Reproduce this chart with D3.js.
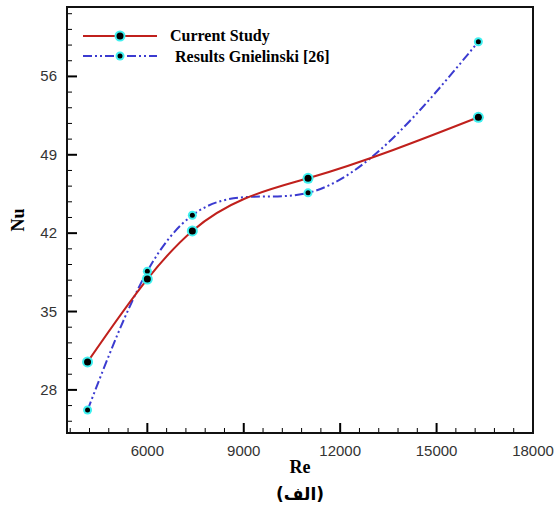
<!DOCTYPE html>
<html>
<head>
<meta charset="utf-8">
<script src="https://cdn.jsdelivr.net/npm/d3@7"></script>
<style>
  body { margin: 0; background: #fff; }
  svg { display: block; }
</style>
</head>
<body>
<svg id="chart" width="559" height="506"></svg>
<script>
let re = [4140, 6000, 7400, 11000, 16300];
let nuCurrent = [30.5, 37.9, 42.2, 46.9, 52.35];
let nuGnielinski = [26.2, 38.6, 43.6, 45.6, 59.1];
let xTicks = [6000, 9000, 12000, 15000, 18000];
let yTicks = [28, 35, 42, 49, 56];

let svg = d3.select('#chart');
let plotL = 67, plotR = 533, plotT = 7, plotB = 433;

let x = d3.scaleLinear().domain([3500, 18000]).range([plotL, plotR]);
let y = d3.scaleLinear().domain([24.15, 62.2]).range([plotB, plotT]);

// natural cubic spline with y as a function of x (like the plotting package does)
function curveSplineX(context) {
  let pts = [];
  return {
    areaStart() {}, areaEnd() {},
    lineStart() { pts = []; },
    point(px, py) { pts.push([px, py]); },
    lineEnd() {
      let n = pts.length;
      if (n < 2) return;
      let h = [], s = [];
      for (let i = 0; i < n - 1; i++) {
        h[i] = pts[i + 1][0] - pts[i][0];
        s[i] = (pts[i + 1][1] - pts[i][1]) / h[i];
      }
      // tridiagonal solve for second derivatives, M0 = Mn-1 = 0
      let M = new Array(n).fill(0);
      let a = [], b = [], c = [], r = [];
      for (let i = 1; i < n - 1; i++) {
        a.push(h[i - 1]); b.push(2 * (h[i - 1] + h[i])); c.push(h[i]);
        r.push(6 * (s[i] - s[i - 1]));
      }
      let m = b.length;
      for (let i = 1; i < m; i++) {
        let w = a[i] / b[i - 1];
        b[i] -= w * c[i - 1];
        r[i] -= w * r[i - 1];
      }
      for (let i = m - 1; i >= 0; i--) {
        M[i + 1] = (r[i] - (i < m - 1 ? c[i] * M[i + 2] : 0)) / b[i];
      }
      context.moveTo(pts[0][0], pts[0][1]);
      for (let i = 0; i < n - 1; i++) {
        let d0 = s[i] - h[i] * (2 * M[i] + M[i + 1]) / 6;
        let d1 = s[i] + h[i] * (M[i] + 2 * M[i + 1]) / 6;
        let k = h[i] / 3;
        context.bezierCurveTo(
          pts[i][0] + k, pts[i][1] + d0 * k,
          pts[i + 1][0] - k, pts[i + 1][1] - d1 * k,
          pts[i + 1][0], pts[i + 1][1]);
      }
    }
  };
}

// minor ticks
let xMinor = d3.range(3600, 18000, 600).filter(v => xTicks.indexOf(v) < 0);
let yMinor = d3.range(25.2, 62.2, 1.4).filter(v => !yTicks.some(t => Math.abs(t - v) < 0.01));

let g = svg.append("g");

g.selectAll(".xminor").data(xMinor).enter().append("line")
  .attr("x1", d => x(d)).attr("x2", d => x(d))
  .attr("y1", plotB).attr("y2", plotB - 5)
  .attr("stroke", "#000").attr("stroke-width", 1);
g.selectAll(".xmajor").data(xTicks).enter().append("line")
  .attr("x1", d => x(d)).attr("x2", d => x(d))
  .attr("y1", plotB).attr("y2", plotB - 10)
  .attr("stroke", "#000").attr("stroke-width", 2);
g.selectAll(".yminor").data(yMinor).enter().append("line")
  .attr("x1", plotL).attr("x2", plotL + 5)
  .attr("y1", d => y(d)).attr("y2", d => y(d))
  .attr("stroke", "#000").attr("stroke-width", 1);
g.selectAll(".ymajor").data(yTicks).enter().append("line")
  .attr("x1", plotL).attr("x2", plotL + 10)
  .attr("y1", d => y(d)).attr("y2", d => y(d))
  .attr("stroke", "#000").attr("stroke-width", 2);

g.selectAll(".xlab").data(xTicks).enter().append("text")
  .attr("x", d => x(d)).attr("y", plotB + 23)
  .attr("text-anchor", "middle")
  .attr("font-family", "Liberation Sans, Arial, sans-serif")
  .attr("font-size", 15).attr("fill", "#333")
  .text(d => d);
g.selectAll(".ylab").data(yTicks).enter().append("text")
  .attr("x", plotL - 10).attr("y", d => y(d) + 5)
  .attr("text-anchor", "end")
  .attr("font-family", "Liberation Sans, Arial, sans-serif")
  .attr("font-size", 15).attr("fill", "#333")
  .text(d => d);

g.append("rect")
  .attr("x", plotL).attr("y", plotT)
  .attr("width", plotR - plotL).attr("height", plotB - plotT)
  .attr("fill", "none").attr("stroke", "#111").attr("stroke-width", 2);

// axis titles
svg.append("text")
  .attr("x", 300).attr("y", 473)
  .attr("text-anchor", "middle")
  .attr("font-family", "Liberation Serif, Times New Roman, serif")
  .attr("font-weight", "bold").attr("font-size", 18)
  .text("Re");
svg.append("text")
  .attr("transform", "translate(24,220) rotate(-90)")
  .attr("text-anchor", "middle")
  .attr("font-family", "Liberation Serif, Times New Roman, serif")
  .attr("font-weight", "bold").attr("font-size", 18)
  .text("Nu");
svg.append("text")
  .attr("x", 300).attr("y", 500)
  .attr("text-anchor", "middle")
  .attr("font-family", "DejaVu Sans, sans-serif")
  .attr("font-weight", "bold").attr("font-size", 17)
  .text("(الف)");

let line = d3.line().curve(curveSplineX)
  .x(d => x(d[0])).y(d => y(d[1]));

let current = re.map((r, i) => [r, nuCurrent[i]]);
let gniel = re.map((r, i) => [r, nuGnielinski[i]]);

svg.append("path")
  .attr("d", line(gniel))
  .attr("fill", "none").attr("stroke", "#3b3bd0").attr("stroke-width", 2)
  .attr("stroke-dasharray", "9,3,2,3,2,3");
svg.append("path")
  .attr("d", line(current))
  .attr("fill", "none").attr("stroke", "#c0201c").attr("stroke-width", 2);

function markers(data, r1, r2) {
  let m = svg.append("g");
  m.selectAll(".halo").data(data).enter().append("circle")
    .attr("cx", d => x(d[0])).attr("cy", d => y(d[1]))
    .attr("r", r1).attr("fill", "#3ff0f0");
  m.selectAll(".dot").data(data).enter().append("circle")
    .attr("cx", d => x(d[0])).attr("cy", d => y(d[1]))
    .attr("r", r2).attr("fill", "#000");
}
markers(gniel, 4.5, 2.5);
markers(current, 5.5, 3.5);

// legend
let legend = svg.append("g");
legend.append("line")
  .attr("x1", 83).attr("x2", 157).attr("y1", 36).attr("y2", 36)
  .attr("stroke", "#c0201c").attr("stroke-width", 2);
legend.append("circle").attr("cx", 120).attr("cy", 36).attr("r", 5.5).attr("fill", "#3ff0f0");
legend.append("circle").attr("cx", 120).attr("cy", 36).attr("r", 3.5).attr("fill", "#000");
legend.append("line")
  .attr("x1", 83).attr("x2", 157).attr("y1", 56).attr("y2", 56)
  .attr("stroke", "#3b3bd0").attr("stroke-width", 2)
  .attr("stroke-dasharray", "9,3,2,3,2,3");
legend.append("circle").attr("cx", 120).attr("cy", 56).attr("r", 4.5).attr("fill", "#3ff0f0");
legend.append("circle").attr("cx", 120).attr("cy", 56).attr("r", 2.5).attr("fill", "#000");
legend.append("text")
  .attr("x", 170).attr("y", 41)
  .attr("font-family", "Liberation Serif, Times New Roman, serif")
  .attr("font-weight", "bold").attr("font-size", 16)
  .text("Current Study");
legend.append("text")
  .attr("x", 175).attr("y", 62)
  .attr("font-family", "Liberation Serif, Times New Roman, serif")
  .attr("font-weight", "bold").attr("font-size", 16)
  .text("Results Gnielinski [26]");
</script>
</body>
</html>
